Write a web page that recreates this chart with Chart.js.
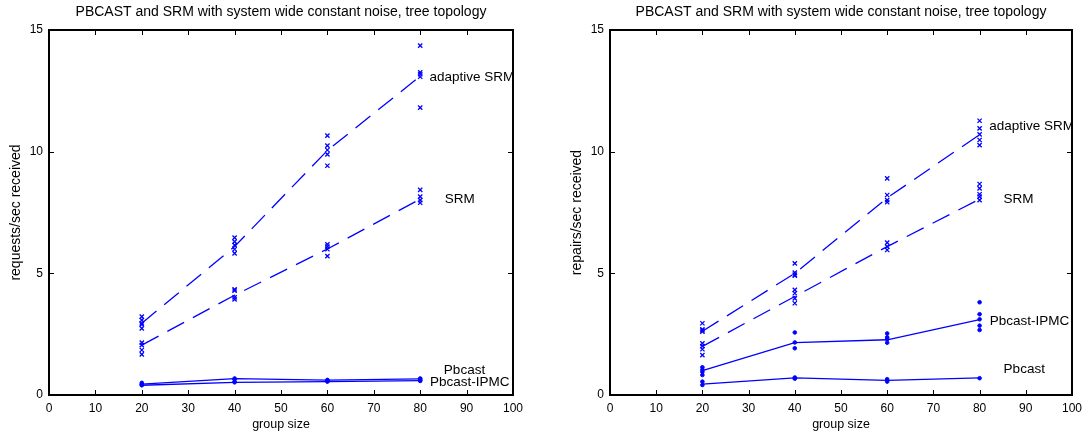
<!DOCTYPE html>
<html>
<head>
<meta charset="utf-8">
<script src="https://cdn.jsdelivr.net/npm/chart.js@4.4.0/dist/chart.umd.min.js"></script>
<style>
body { margin: 0; background: #fff; }
canvas { position: absolute; top: 0; }
</style>
</head>
<body>
<canvas id="left" width="544" height="439" style="left:0"></canvas>
<canvas id="right" width="544" height="439" style="left:544px"></canvas>
<script>
var groupSizes = [20, 40, 60, 80];
var xTicks = [0, 10, 20, 30, 40, 50, 60, 70, 80, 90, 100];
var yTicks = [0, 5, 10, 15];
var chartTitle = 'PBCAST and SRM with system wide constant noise, tree topology';

// left chart: requests/sec
var reqAdaptiveRuns = [[3.22, 3.08, 2.95, 2.9, 2.74], [6.47, 6.3, 6.16, 5.99, 5.82], [10.66, 10.25, 10.07, 9.89, 9.42], [14.36, 13.26, 13.18, 13.08, 11.81]];
var reqAdaptiveMean = [2.95, 6.1, 10.05, 13.1];
var reqSrmRuns = [[2.15, 2.05, 1.85, 1.67], [4.34, 4.29, 4.01, 3.93], [6.19, 6.1, 5.99, 5.71], [8.43, 8.15, 8.01, 7.9]];
var reqSrmMean = [2.05, 4.1, 6.0, 8.05];
var reqPbcastRuns = [[0.45, 0.5], [0.68, 0.65], [0.62, 0.6], [0.68, 0.65]];
var reqPbcastMean = [0.45, 0.67, 0.61, 0.66];
var reqIpmcRuns = [[0.4, 0.42], [0.52, 0.55], [0.55, 0.57], [0.58, 0.6]];
var reqIpmcMean = [0.4, 0.52, 0.55, 0.59];

// right chart: repairs/sec
var repAdaptiveRuns = [[2.95, 2.7, 2.65, 2.6], [5.41, 5.03, 4.95, 4.9], [8.9, 8.22, 8.01, 7.92], [11.27, 10.96, 10.71, 10.48, 10.27]];
var repAdaptiveMean = [2.62, 5.0, 8.1, 10.7];
var repSrmRuns = [[2.12, 2.01, 1.88, 1.64], [4.32, 4.18, 3.97, 3.77], [6.26, 6.1, 5.96], [8.67, 8.49, 8.25, 8.15, 8.01]];
var repSrmMean = [2.0, 4.05, 6.1, 8.05];
var repIpmcRuns = [[1.14, 1.04, 0.95, 0.82], [2.57, 2.16, 1.92], [2.53, 2.37, 2.29, 2.15], [3.81, 3.32, 3.11, 2.85, 2.67]];
var repIpmcMean = [1.0, 2.15, 2.27, 3.1];
var repPbcastRuns = [[0.55, 0.41], [0.72, 0.67], [0.65, 0.55], [0.69]];
var repPbcastMean = [0.45, 0.7, 0.6, 0.7];

var BLUE = '#0000ff';
var FONT = '"Liberation Sans", Arial, sans-serif';

function points(runs) {
  var out = [];
  runs.forEach(function (vals, i) {
    vals.forEach(function (v) { out.push({x: groupSizes[i], y: v}); });
  });
  return out;
}
function meanLine(means, dashed) {
  return {
    type: 'line',
    data: means.map(function (v, i) { return {x: groupSizes[i], y: v}; }),
    borderColor: BLUE, borderWidth: 1.3, borderDash: dashed ? [19, 10] : [],
    pointRadius: 0, fill: false, tension: 0
  };
}
function marks(runs, style) {
  return {
    type: 'scatter',
    data: points(runs),
    pointStyle: style === 'x' ? 'crossRot' : 'circle',
    pointRadius: style === 'x' ? 3 : 1.8,
    borderColor: BLUE, backgroundColor: BLUE, borderWidth: style === 'x' ? 1.3 : 1
  };
}

var boxPlugin = {
  id: 'box',
  afterDraw: function (chart, args, opts) {
    var ctx = chart.ctx, a = chart.chartArea;
    var xs = chart.scales.x, ys = chart.scales.y;
    ctx.save();
    ctx.strokeStyle = '#000';
    ctx.lineWidth = 2;
    ctx.strokeRect(a.left, a.top, a.right - a.left, a.bottom - a.top);
    ctx.lineWidth = 1;
    ctx.beginPath();
    xs.ticks.forEach(function (t) {
      var p = Math.round(xs.getPixelForValue(t.value)) + 0.5;
      ctx.moveTo(p, a.bottom); ctx.lineTo(p, a.bottom - 5);
      ctx.moveTo(p, a.top); ctx.lineTo(p, a.top + 5);
    });
    ys.ticks.forEach(function (t) {
      var p = Math.round(ys.getPixelForValue(t.value)) + 0.5;
      ctx.moveTo(a.left, p); ctx.lineTo(a.left + 5, p);
      ctx.moveTo(a.right, p); ctx.lineTo(a.right - 5, p);
    });
    ctx.stroke();
    ctx.fillStyle = '#000';
    ctx.textBaseline = 'middle';
    ctx.font = '14px ' + FONT;
    ctx.textAlign = 'center';
    ctx.fillText(opts.title, (a.left + a.right) / 2, 12);
    ctx.font = '13.5px ' + FONT;
    ctx.textAlign = 'left';
    opts.labels.forEach(function (l) {
      ctx.fillText(l.text, xs.getPixelForValue(l.x), ys.getPixelForValue(l.y));
    });
    ctx.restore();
  }
};

function makeChart(id, datasets, yTitle, yWidth, yTitlePad, padRight, labels) {
  return new Chart(document.getElementById(id), {
    data: {datasets: datasets},
    options: {
      responsive: false,
      animation: false,
      layout: {padding: {top: 30, right: padRight, left: 0, bottom: 0}},
      plugins: {
        legend: {display: false},
        tooltip: {enabled: false},
        box: {title: chartTitle, labels: labels}
      },
      scales: {
        x: {
          type: 'linear', min: 0, max: 100,
          afterBuildTicks: function (s) { s.ticks = xTicks.map(function (v) { return {value: v}; }); },
          afterFit: function (s) { s.height = 44; },
          grid: {display: false, drawTicks: false},
          border: {display: false},
          ticks: {color: '#000', font: {family: FONT, size: 12}, padding: 6, maxRotation: 0},
          title: {display: true, text: 'group size', color: '#000', font: {family: FONT, size: 12.5}, padding: {top: 0, bottom: 7}}
        },
        y: {
          type: 'linear', min: 0, max: 15,
          afterBuildTicks: function (s) { s.ticks = yTicks.map(function (v) { return {value: v}; }); },
          afterFit: function (s) { s.width = yWidth; },
          grid: {display: false, drawTicks: false},
          border: {display: false},
          ticks: {color: '#000', font: {family: FONT, size: 12}, padding: 6},
          title: {display: true, text: yTitle, color: '#000', font: {family: FONT, size: 14}, padding: {top: yTitlePad, bottom: 0}}
        }
      }
    },
    plugins: [boxPlugin]
  });
}

makeChart('left', [
  meanLine(reqAdaptiveMean, true), meanLine(reqSrmMean, true),
  meanLine(reqPbcastMean, false), meanLine(reqIpmcMean, false),
  marks(reqAdaptiveRuns, 'x'), marks(reqSrmRuns, 'x'),
  marks(reqPbcastRuns, 'o'), marks(reqIpmcRuns, 'o')
], 'requests/sec received', 49, 8, 31, [
  {text: 'adaptive SRM', x: 82.0, y: 13.04},
  {text: 'SRM', x: 85.3, y: 8.04},
  {text: 'Pbcast', x: 85.1, y: 1.03},
  {text: 'Pbcast-IPMC', x: 82.1, y: 0.52}
]);

makeChart('right', [
  meanLine(repAdaptiveMean, true), meanLine(repSrmMean, true),
  meanLine(repIpmcMean, false), meanLine(repPbcastMean, false),
  marks(repAdaptiveRuns, 'x'), marks(repSrmRuns, 'x'),
  marks(repIpmcRuns, 'o'), marks(repPbcastRuns, 'o')
], 'repairs/sec received', 66, 25, 15, [
  {text: 'adaptive SRM', x: 82.1, y: 11.06},
  {text: 'SRM', x: 85.2, y: 8.06},
  {text: 'Pbcast-IPMC', x: 82.2, y: 3.01},
  {text: 'Pbcast', x: 85.2, y: 1.06}
]);
</script>
</body>
</html>
